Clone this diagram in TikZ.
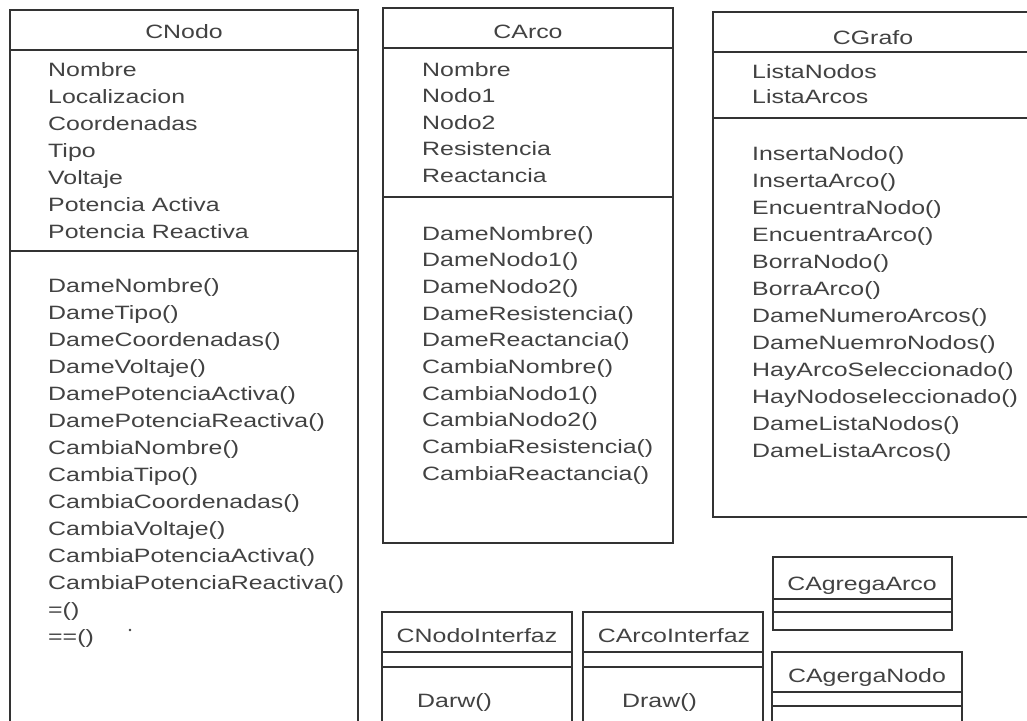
\documentclass[tikz,border=0pt]{standalone}
\usepackage{fontspec}
\setmainfont{Liberation Sans}[FakeStretch=1.29]

% Draws a class box: left, right, top, first separator, second separator, bottom
\newcommand\classbox[6]{%
  \draw[classline] (#1,#3) rectangle (#2,#6);
  \draw[classline] (#1,#4) -- (#2,#4);
  \draw[classline] (#1,#5) -- (#2,#5);
}
% One member per line: name prefix, x, first baseline, line step, items
\newcommand\memberlist[5]{%
  \foreach \t [count=\i from 0] in {#5}
    \node[member] (#1-\i) at (#2, {#3+#4*\i}) {\t};
}

\tikzset{
  classline/.style={draw=black!80, line width=1.1pt},
  uml text/.style={inner sep=0pt, text=black!74, font=\fontsize{19.3}{24}\selectfont},
  member/.style={uml text, anchor=base west},
  classtitle/.style={uml text, anchor=base},
}

\begin{document}
\begin{tikzpicture}[x=1pt, y=-1pt]
  \useasboundingbox[fill=white] (0,0) rectangle (1027,720);
  \clip (0,0) rectangle (1027,720);

  % CNodo
  \classbox{10}{358}{10}{50}{251}{740}
  \node[classtitle] (cnodo) at (184,38) {CNodo};
  \memberlist{cnodo-a}{48}{76}{27}{{Nombre},{Localizacion},{Coordenadas},{Tipo},{Voltaje},{Potencia Activa},{Potencia Reactiva}}
  \memberlist{cnodo-m}{48}{292}{27}{{DameNombre()},{DameTipo()},{DameCoordenadas()},{DameVoltaje()},{DamePotenciaActiva()},{DamePotenciaReactiva()},{CambiaNombre()},{CambiaTipo()},{CambiaCoordenadas()},{CambiaVoltaje()},{CambiaPotenciaActiva()},{CambiaPotenciaReactiva()},{=()},{==()}}
  \fill[black!75] (130,630) circle (1.4);

  % CArco
  \classbox{383}{673}{8}{48}{197}{543}
  \node[classtitle] (carco) at (528,38) {CArco};
  \memberlist{carco-a}{422}{76}{26.5}{{Nombre},{Nodo1},{Nodo2},{Resistencia},{Reactancia}}
  \memberlist{carco-m}{422}{240}{26.7}{{DameNombre()},{DameNodo1()},{DameNodo2()},{DameResistencia()},{DameReactancia()},{CambiaNombre()},{CambiaNodo1()},{CambiaNodo2()},{CambiaResistencia()},{CambiaReactancia()}}

  % CGrafo
  \classbox{713}{1033}{12}{52}{118}{517}
  \node[classtitle] (cgrafo) at (873,44) {CGrafo};
  \memberlist{cgrafo-a}{752}{78}{25}{{ListaNodos},{ListaArcos}}
  \memberlist{cgrafo-m}{752}{160}{27}{{InsertaNodo()},{InsertaArco()},{EncuentraNodo()},{EncuentraArco()},{BorraNodo()},{BorraArco()},{DameNumeroArcos()},{DameNuemroNodos()},{HayArcoSeleccionado()},{HayNodoseleccionado()},{DameListaNodos()},{DameListaArcos()}}

  % CNodoInterfaz
  \classbox{382}{572}{612}{652}{667}{740}
  \node[classtitle] (cnodoif) at (477,642) {CNodoInterfaz};
  \node[member] (cnodoif-m) at (417,707) {Darw()};

  % CArcoInterfaz
  \classbox{583}{763}{612}{652}{667}{740}
  \node[classtitle] (carcoif) at (674,642) {CArcoInterfaz};
  \node[member] (carcoif-m) at (622,707) {Draw()};

  % CAgregaArco
  \classbox{773}{952}{557}{599}{612}{630}
  \node[classtitle] (cagarco) at (862,590) {CAgregaArco};

  % CAgergaNodo
  \classbox{772}{962}{652}{692}{706}{740}
  \node[classtitle] (cagnodo) at (867,682) {CAgergaNodo};
\end{tikzpicture}
\end{document}
